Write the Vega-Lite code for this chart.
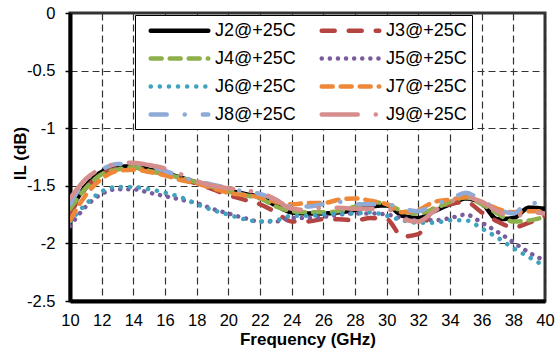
{
  "$schema": "https://vega.github.io/schema/vega-lite/v6.json",
  "width": 475,
  "height": 288,
  "autosize": {"type": "none"},
  "padding": {"left": 70, "top": 13, "right": 12, "bottom": 50},
  "background": "white",
  "config": {
    "font": "Liberation Sans",
    "view": {"stroke": "#333", "strokeWidth": 3}
  },
  "data": {"values": [
    {"s":"J2@+25C","f":10,"v":-1.72},{"s":"J2@+25C","f":11,"v":-1.50},{"s":"J2@+25C","f":12,"v":-1.38},{"s":"J2@+25C","f":13,"v":-1.34},{"s":"J2@+25C","f":14,"v":-1.33},{"s":"J2@+25C","f":15,"v":-1.36},{"s":"J2@+25C","f":16,"v":-1.39},{"s":"J2@+25C","f":17,"v":-1.43},{"s":"J2@+25C","f":18,"v":-1.47},{"s":"J2@+25C","f":19,"v":-1.50},{"s":"J2@+25C","f":20,"v":-1.54},{"s":"J2@+25C","f":21,"v":-1.57},{"s":"J2@+25C","f":22,"v":-1.60},{"s":"J2@+25C","f":23,"v":-1.67},{"s":"J2@+25C","f":24,"v":-1.73},{"s":"J2@+25C","f":25,"v":-1.74},{"s":"J2@+25C","f":26,"v":-1.74},{"s":"J2@+25C","f":27,"v":-1.73},{"s":"J2@+25C","f":28,"v":-1.71},{"s":"J2@+25C","f":29,"v":-1.68},{"s":"J2@+25C","f":30,"v":-1.67},{"s":"J2@+25C","f":31,"v":-1.76},{"s":"J2@+25C","f":32,"v":-1.78},{"s":"J2@+25C","f":33,"v":-1.72},{"s":"J2@+25C","f":34,"v":-1.66},{"s":"J2@+25C","f":35,"v":-1.61},{"s":"J2@+25C","f":36,"v":-1.65},{"s":"J2@+25C","f":37,"v":-1.79},{"s":"J2@+25C","f":38,"v":-1.78},{"s":"J2@+25C","f":39,"v":-1.69},{"s":"J2@+25C","f":40,"v":-1.70},
    {"s":"J3@+25C","f":10,"v":-1.75},{"s":"J3@+25C","f":11,"v":-1.52},{"s":"J3@+25C","f":12,"v":-1.40},{"s":"J3@+25C","f":13,"v":-1.35},{"s":"J3@+25C","f":14,"v":-1.34},{"s":"J3@+25C","f":15,"v":-1.37},{"s":"J3@+25C","f":16,"v":-1.40},{"s":"J3@+25C","f":17,"v":-1.44},{"s":"J3@+25C","f":18,"v":-1.48},{"s":"J3@+25C","f":19,"v":-1.53},{"s":"J3@+25C","f":20,"v":-1.58},{"s":"J3@+25C","f":21,"v":-1.62},{"s":"J3@+25C","f":22,"v":-1.66},{"s":"J3@+25C","f":23,"v":-1.73},{"s":"J3@+25C","f":24,"v":-1.81},{"s":"J3@+25C","f":25,"v":-1.81},{"s":"J3@+25C","f":26,"v":-1.79},{"s":"J3@+25C","f":27,"v":-1.79},{"s":"J3@+25C","f":28,"v":-1.80},{"s":"J3@+25C","f":29,"v":-1.78},{"s":"J3@+25C","f":30,"v":-1.79},{"s":"J3@+25C","f":31,"v":-1.94},{"s":"J3@+25C","f":32,"v":-1.92},{"s":"J3@+25C","f":33,"v":-1.69},{"s":"J3@+25C","f":34,"v":-1.66},{"s":"J3@+25C","f":35,"v":-1.64},{"s":"J3@+25C","f":36,"v":-1.73},{"s":"J3@+25C","f":37,"v":-1.81},{"s":"J3@+25C","f":38,"v":-1.86},{"s":"J3@+25C","f":39,"v":-1.82},{"s":"J3@+25C","f":40,"v":-1.76},
    {"s":"J4@+25C","f":10,"v":-1.70},{"s":"J4@+25C","f":11,"v":-1.52},{"s":"J4@+25C","f":12,"v":-1.40},{"s":"J4@+25C","f":13,"v":-1.36},{"s":"J4@+25C","f":14,"v":-1.34},{"s":"J4@+25C","f":15,"v":-1.37},{"s":"J4@+25C","f":16,"v":-1.40},{"s":"J4@+25C","f":17,"v":-1.43},{"s":"J4@+25C","f":18,"v":-1.47},{"s":"J4@+25C","f":19,"v":-1.51},{"s":"J4@+25C","f":20,"v":-1.55},{"s":"J4@+25C","f":21,"v":-1.58},{"s":"J4@+25C","f":22,"v":-1.61},{"s":"J4@+25C","f":23,"v":-1.68},{"s":"J4@+25C","f":24,"v":-1.72},{"s":"J4@+25C","f":25,"v":-1.73},{"s":"J4@+25C","f":26,"v":-1.73},{"s":"J4@+25C","f":27,"v":-1.72},{"s":"J4@+25C","f":28,"v":-1.68},{"s":"J4@+25C","f":29,"v":-1.64},{"s":"J4@+25C","f":30,"v":-1.66},{"s":"J4@+25C","f":31,"v":-1.72},{"s":"J4@+25C","f":32,"v":-1.74},{"s":"J4@+25C","f":33,"v":-1.70},{"s":"J4@+25C","f":34,"v":-1.64},{"s":"J4@+25C","f":35,"v":-1.60},{"s":"J4@+25C","f":36,"v":-1.66},{"s":"J4@+25C","f":37,"v":-1.74},{"s":"J4@+25C","f":38,"v":-1.81},{"s":"J4@+25C","f":39,"v":-1.80},{"s":"J4@+25C","f":40,"v":-1.77},
    {"s":"J5@+25C","f":10,"v":-1.85},{"s":"J5@+25C","f":11,"v":-1.68},{"s":"J5@+25C","f":12,"v":-1.57},{"s":"J5@+25C","f":13,"v":-1.53},{"s":"J5@+25C","f":14,"v":-1.53},{"s":"J5@+25C","f":15,"v":-1.56},{"s":"J5@+25C","f":16,"v":-1.59},{"s":"J5@+25C","f":17,"v":-1.62},{"s":"J5@+25C","f":18,"v":-1.65},{"s":"J5@+25C","f":19,"v":-1.70},{"s":"J5@+25C","f":20,"v":-1.74},{"s":"J5@+25C","f":21,"v":-1.78},{"s":"J5@+25C","f":22,"v":-1.81},{"s":"J5@+25C","f":23,"v":-1.81},{"s":"J5@+25C","f":24,"v":-1.78},{"s":"J5@+25C","f":25,"v":-1.78},{"s":"J5@+25C","f":26,"v":-1.77},{"s":"J5@+25C","f":27,"v":-1.75},{"s":"J5@+25C","f":28,"v":-1.74},{"s":"J5@+25C","f":29,"v":-1.74},{"s":"J5@+25C","f":30,"v":-1.75},{"s":"J5@+25C","f":31,"v":-1.78},{"s":"J5@+25C","f":32,"v":-1.80},{"s":"J5@+25C","f":33,"v":-1.80},{"s":"J5@+25C","f":34,"v":-1.78},{"s":"J5@+25C","f":35,"v":-1.75},{"s":"J5@+25C","f":36,"v":-1.82},{"s":"J5@+25C","f":37,"v":-1.90},{"s":"J5@+25C","f":38,"v":-1.99},{"s":"J5@+25C","f":39,"v":-2.08},{"s":"J5@+25C","f":40,"v":-2.15},
    {"s":"J6@+25C","f":10,"v":-1.81},{"s":"J6@+25C","f":11,"v":-1.66},{"s":"J6@+25C","f":12,"v":-1.55},{"s":"J6@+25C","f":13,"v":-1.51},{"s":"J6@+25C","f":14,"v":-1.51},{"s":"J6@+25C","f":15,"v":-1.53},{"s":"J6@+25C","f":16,"v":-1.56},{"s":"J6@+25C","f":17,"v":-1.60},{"s":"J6@+25C","f":18,"v":-1.66},{"s":"J6@+25C","f":19,"v":-1.71},{"s":"J6@+25C","f":20,"v":-1.75},{"s":"J6@+25C","f":21,"v":-1.79},{"s":"J6@+25C","f":22,"v":-1.81},{"s":"J6@+25C","f":23,"v":-1.80},{"s":"J6@+25C","f":24,"v":-1.76},{"s":"J6@+25C","f":25,"v":-1.76},{"s":"J6@+25C","f":26,"v":-1.75},{"s":"J6@+25C","f":27,"v":-1.74},{"s":"J6@+25C","f":28,"v":-1.74},{"s":"J6@+25C","f":29,"v":-1.73},{"s":"J6@+25C","f":30,"v":-1.76},{"s":"J6@+25C","f":31,"v":-1.80},{"s":"J6@+25C","f":32,"v":-1.82},{"s":"J6@+25C","f":33,"v":-1.82},{"s":"J6@+25C","f":34,"v":-1.80},{"s":"J6@+25C","f":35,"v":-1.80},{"s":"J6@+25C","f":36,"v":-1.87},{"s":"J6@+25C","f":37,"v":-1.95},{"s":"J6@+25C","f":38,"v":-2.04},{"s":"J6@+25C","f":39,"v":-2.12},{"s":"J6@+25C","f":40,"v":-2.20},
    {"s":"J7@+25C","f":10,"v":-1.80},{"s":"J7@+25C","f":11,"v":-1.58},{"s":"J7@+25C","f":12,"v":-1.44},{"s":"J7@+25C","f":13,"v":-1.37},{"s":"J7@+25C","f":14,"v":-1.36},{"s":"J7@+25C","f":15,"v":-1.38},{"s":"J7@+25C","f":16,"v":-1.41},{"s":"J7@+25C","f":17,"v":-1.45},{"s":"J7@+25C","f":18,"v":-1.48},{"s":"J7@+25C","f":19,"v":-1.52},{"s":"J7@+25C","f":20,"v":-1.56},{"s":"J7@+25C","f":21,"v":-1.58},{"s":"J7@+25C","f":22,"v":-1.60},{"s":"J7@+25C","f":23,"v":-1.64},{"s":"J7@+25C","f":24,"v":-1.66},{"s":"J7@+25C","f":25,"v":-1.65},{"s":"J7@+25C","f":26,"v":-1.65},{"s":"J7@+25C","f":27,"v":-1.62},{"s":"J7@+25C","f":28,"v":-1.61},{"s":"J7@+25C","f":29,"v":-1.63},{"s":"J7@+25C","f":30,"v":-1.66},{"s":"J7@+25C","f":31,"v":-1.73},{"s":"J7@+25C","f":32,"v":-1.71},{"s":"J7@+25C","f":33,"v":-1.64},{"s":"J7@+25C","f":34,"v":-1.62},{"s":"J7@+25C","f":35,"v":-1.60},{"s":"J7@+25C","f":36,"v":-1.64},{"s":"J7@+25C","f":37,"v":-1.70},{"s":"J7@+25C","f":38,"v":-1.73},{"s":"J7@+25C","f":39,"v":-1.72},{"s":"J7@+25C","f":40,"v":-1.72},
    {"s":"J8@+25C","f":10,"v":-1.66},{"s":"J8@+25C","f":11,"v":-1.45},{"s":"J8@+25C","f":12,"v":-1.36},{"s":"J8@+25C","f":13,"v":-1.31},{"s":"J8@+25C","f":14,"v":-1.31},{"s":"J8@+25C","f":15,"v":-1.33},{"s":"J8@+25C","f":16,"v":-1.37},{"s":"J8@+25C","f":17,"v":-1.42},{"s":"J8@+25C","f":18,"v":-1.46},{"s":"J8@+25C","f":19,"v":-1.49},{"s":"J8@+25C","f":20,"v":-1.52},{"s":"J8@+25C","f":21,"v":-1.55},{"s":"J8@+25C","f":22,"v":-1.57},{"s":"J8@+25C","f":23,"v":-1.62},{"s":"J8@+25C","f":24,"v":-1.68},{"s":"J8@+25C","f":25,"v":-1.68},{"s":"J8@+25C","f":26,"v":-1.66},{"s":"J8@+25C","f":27,"v":-1.64},{"s":"J8@+25C","f":28,"v":-1.66},{"s":"J8@+25C","f":29,"v":-1.66},{"s":"J8@+25C","f":30,"v":-1.66},{"s":"J8@+25C","f":31,"v":-1.70},{"s":"J8@+25C","f":32,"v":-1.72},{"s":"J8@+25C","f":33,"v":-1.66},{"s":"J8@+25C","f":34,"v":-1.62},{"s":"J8@+25C","f":35,"v":-1.56},{"s":"J8@+25C","f":36,"v":-1.63},{"s":"J8@+25C","f":37,"v":-1.70},{"s":"J8@+25C","f":38,"v":-1.74},{"s":"J8@+25C","f":39,"v":-1.64},{"s":"J8@+25C","f":40,"v":-1.70},
    {"s":"J9@+25C","f":10,"v":-1.61},{"s":"J9@+25C","f":11,"v":-1.44},{"s":"J9@+25C","f":12,"v":-1.35},{"s":"J9@+25C","f":13,"v":-1.31},{"s":"J9@+25C","f":14,"v":-1.30},{"s":"J9@+25C","f":15,"v":-1.32},{"s":"J9@+25C","f":16,"v":-1.35},{"s":"J9@+25C","f":17,"v":-1.40},{"s":"J9@+25C","f":18,"v":-1.46},{"s":"J9@+25C","f":19,"v":-1.50},{"s":"J9@+25C","f":20,"v":-1.52},{"s":"J9@+25C","f":21,"v":-1.54},{"s":"J9@+25C","f":22,"v":-1.56},{"s":"J9@+25C","f":23,"v":-1.62},{"s":"J9@+25C","f":24,"v":-1.70},{"s":"J9@+25C","f":25,"v":-1.71},{"s":"J9@+25C","f":26,"v":-1.69},{"s":"J9@+25C","f":27,"v":-1.69},{"s":"J9@+25C","f":28,"v":-1.70},{"s":"J9@+25C","f":29,"v":-1.70},{"s":"J9@+25C","f":30,"v":-1.70},{"s":"J9@+25C","f":31,"v":-1.79},{"s":"J9@+25C","f":32,"v":-1.81},{"s":"J9@+25C","f":33,"v":-1.72},{"s":"J9@+25C","f":34,"v":-1.64},{"s":"J9@+25C","f":35,"v":-1.60},{"s":"J9@+25C","f":36,"v":-1.64},{"s":"J9@+25C","f":37,"v":-1.72},{"s":"J9@+25C","f":38,"v":-1.77},{"s":"J9@+25C","f":39,"v":-1.73},{"s":"J9@+25C","f":40,"v":-1.74}
  ]},
  "mark": {"type": "line", "strokeWidth": 4.5, "strokeCap": "round", "interpolate": "monotone", "clip": true},
  "encoding": {
    "x": {
      "field": "f", "type": "quantitative",
      "scale": {"domain": [10, 40], "nice": false, "zero": false},
      "axis": {
        "title": "Frequency (GHz)", "values": [10,12,14,16,18,20,22,24,26,28,30,32,34,36,38,40],
        "grid": true, "gridDash": [7, 4], "gridColor": "#333", "gridWidth": 1.2, "gridOpacity": 1,
        "domainColor": "black", "domainWidth": 4, "ticks": false,
        "labelFontSize": 16.5, "labelColor": "black", "labelPadding": 11, "labelFlush": false,
        "titleFontSize": 17, "titleFontWeight": "bold", "titleColor": "black", "titlePadding": 3
      }
    },
    "y": {
      "field": "v", "type": "quantitative",
      "scale": {"domain": [-2.5, 0], "nice": false, "zero": false},
      "axis": {
        "title": "IL (dB)", "values": [0, -0.5, -1, -1.5, -2, -2.5],
        "labelExpr": "toString(datum.value)",
        "grid": true, "gridDash": [7, 4], "gridColor": "#333", "gridWidth": 1.2, "gridOpacity": 1,
        "domainColor": "black", "domainWidth": 4, "ticks": true, "tickSize": 5, "tickColor": "black", "tickWidth": 1.5,
        "labelFontSize": 16.5, "labelColor": "black", "labelPadding": 10,
        "titleFontSize": 17, "titleFontWeight": "bold", "titleColor": "black",
        "titleX": -50, "titleY": 140, "titleAngle": -90, "titleBaseline": "middle", "titleAlign": "center"
      }
    },
    "color": {
      "field": "s", "type": "nominal",
      "scale": {
        "domain": ["J2@+25C","J3@+25C","J4@+25C","J5@+25C","J6@+25C","J7@+25C","J8@+25C","J9@+25C"],
        "range": ["#000000","#B5433F","#8DB04C","#7A5C9E","#3FA3BE","#EE8838","#8FAAD6","#D68E8C"]
      },
      "legend": {
        "title": null, "orient": "none", "legendX": 65, "legendY": 2, "columns": 2,
        "direction": "horizontal",
        "symbolType": "M-3.6,0H3.6", "symbolSize": 256, "symbolStrokeWidth": 4.5,
        "labelFontSize": 18, "labelColor": "black", "labelOffset": 25,
        "strokeColor": "black", "fillColor": "white", "padding": 5,
        "rowPadding": 8, "columnPadding": 15, "symbolOffset": 29,
        "encode": {"symbols": {"update": {"strokeCap": {"value": "round"}}}}
      }
    },
    "strokeDash": {
      "field": "s", "type": "nominal",
      "scale": {
        "domain": ["J2@+25C","J3@+25C","J4@+25C","J5@+25C","J6@+25C","J7@+25C","J8@+25C","J9@+25C"],
        "range": [[1, 0], [13, 14], [11, 8], [0.1, 8], [0.1, 9], [11, 8], [16, 18, 0.1, 18], [36, 18, 0.1, 18]]
      },
      "legend": null
    }
  }
}
